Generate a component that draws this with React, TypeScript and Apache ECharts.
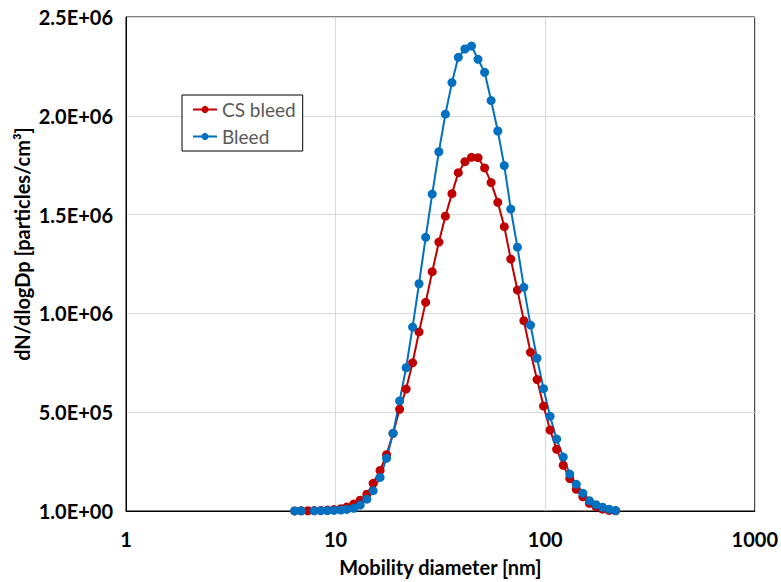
import React, { useEffect, useRef } from "react";
import * as echarts from "echarts";

// Mobility diameters [nm] read from point positions
const diameters = [
  6.38, 6.85, 7.37, 7.91, 8.51, 9.14, 9.82, 10.6, 11.3, 12.2,
  13.1, 14.1, 15.1, 16.3, 17.5, 18.8, 20.2, 21.7, 23.3, 25.0,
  26.9, 28.9, 31.1, 33.4, 35.9, 38.5, 41.4, 44.5, 47.8, 51.4,
  55.2, 59.4, 63.8, 68.5, 73.7, 79.1, 85.1, 91.4, 98.2, 105.5,
  113.4, 121.9, 131.0, 140.7, 151.2, 162.5, 174.7, 187.7, 201.7, 216.7,
];

const csBleed = [
  500, 800, 1200, 2000, 3000, 4500, 7000, 12000, 20000, 35000,
  55000, 85000, 140000, 205000, 285000, 393000, 515000, 617000, 750000, 906000,
  1056000, 1211000, 1361000, 1492000, 1606000, 1712000, 1768000, 1790000, 1788000, 1736000,
  1662000, 1562000, 1439000, 1275000, 1118000, 963000, 803000, 665000, 531000, 410000,
  312000, 231000, 164000, 110000, 72000, 39000, 22000, 9000, 3000, 1000,
];

const bleed: (number | null)[] = [
  500, 700, null, 1000, 1500, 2000, 3000, 5000, 8000, 14000,
  30000, 60000, 103000, 170000, 267000, 393000, 557000, 725000, 931000, 1150000,
  1385000, 1604000, 1818000, 2008000, 2168000, 2296000, 2338000, 2353000, 2286000, 2220000,
  2077000, 1923000, 1748000, 1528000, 1335000, 1132000, 941000, 773000, 619000, 479000,
  364000, 273000, 187000, 135000, 90000, 52000, 32000, 19000, 9000, 2000,
];

const seriesNames = ["CS bleed", "Bleed"];
const yTickLabels = ["1.0E+00", "5.0E+05", "1.0E+06", "1.5E+06", "2.0E+06", "2.5E+06"];
const xTickLabels: Record<number, string> = { 1: "1", 10: "10", 100: "100", 1000: "1000" };

const FONT = "Lato, 'Open Sans', sans-serif";

export default function App() {
  const ref = useRef<HTMLDivElement>(null);
  useEffect(() => {
    if (!ref.current) return;
    const chart = echarts.init(ref.current, null, { renderer: "svg" });
    const pair = (ys: (number | null)[]) =>
      diameters.map((d, i) => [d, ys[i] === null ? null : ys[i]]);
    chart.setOption({
      animation: false,
      backgroundColor: "#fff",
      grid: {
        left: 126,
        right: 25,
        top: 17,
        bottom: 71,
        show: true,
        borderColor: "#000",
        borderWidth: 1,
      },
      legend: {
        data: seriesNames,
        orient: "vertical",
        left: 182,
        top: 95,
        padding: [5, 7, 5, 10],
        itemGap: 8,
        itemWidth: 24,
        itemHeight: 9,
        borderColor: "#000",
        borderWidth: 1,
        backgroundColor: "#fff",
        textStyle: { color: "#595959", fontSize: 19, fontFamily: FONT },
      },
      xAxis: {
        type: "log",
        logBase: 10,
        min: 1,
        max: 1000,
        name: "Mobility diameter [nm]",
        nameLocation: "middle",
        nameGap: 46,
        nameTextStyle: { color: "#000", fontSize: 20, fontWeight: "bold", fontFamily: FONT },
        axisLine: { lineStyle: { color: "#000", width: 1 } },
        axisTick: { show: false },
        minorTick: { show: false },
        axisLabel: {
          margin: 18,
          color: "#000",
          fontSize: 20,
          fontWeight: "bold",
          fontFamily: FONT,
          formatter: (v: number) => xTickLabels[Math.round(v)] ?? "",
        },
        splitLine: { show: true, lineStyle: { color: "#d9d9d9", width: 1 } },
      },
      yAxis: {
        type: "value",
        min: 0,
        max: 2500000,
        interval: 500000,
        axisLine: { show: true, lineStyle: { color: "#000", width: 1 } },
        axisTick: { show: false },
        axisLabel: {
          margin: 13,
          color: "#000",
          fontSize: 20,
          fontWeight: "bold",
          fontFamily: FONT,
          formatter: (_v: number, i: number) => yTickLabels[i],
        },
        splitLine: { show: true, lineStyle: { color: "#d9d9d9", width: 1 } },
      },
      graphic: [
        {
          type: "text",
          x: 22,
          y: 244,
          rotation: Math.PI / 2,
          style: {
            text: "dN/dlogDp [particles/cm³]",
            textAlign: "center",
            textVerticalAlign: "middle",
            fill: "#000",
            fontSize: 20,
            fontWeight: "bold",
            fontFamily: FONT,
          },
        },
      ],
      series: [
        {
          name: seriesNames[0],
          type: "line",
          data: pair(csBleed),
          symbol: "circle",
          symbolSize: 9,
          showAllSymbol: true,
          itemStyle: { color: "#C00000" },
          lineStyle: { color: "#C00000", width: 2 },
        },
        {
          name: seriesNames[1],
          type: "line",
          data: pair(bleed),
          connectNulls: true,
          symbol: "circle",
          symbolSize: 9,
          showAllSymbol: true,
          itemStyle: { color: "#0070C0" },
          lineStyle: { color: "#0070C0", width: 2 },
        },
      ],
    });
    return () => chart.dispose();
  }, []);
  return <div ref={ref} style={{ position: "fixed", left: 0, top: 0, width: 781, height: 582 }} />;
}
